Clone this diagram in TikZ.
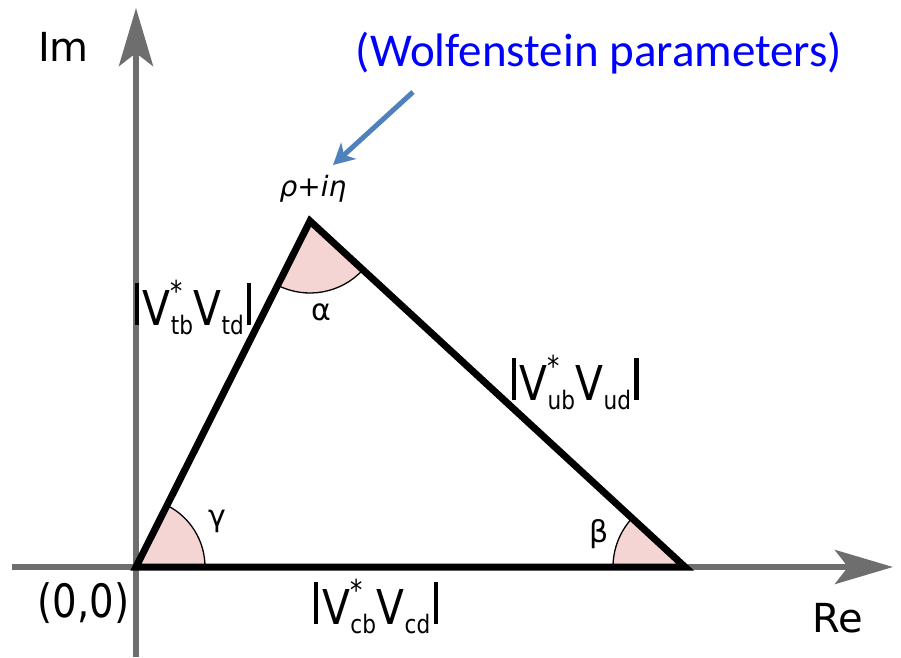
\documentclass[tikz,border=0pt]{standalone}
\usepackage{fontspec}
\setmainfont{DejaVu Sans}
\newfontfamily\calib{Carlito}
\usepackage{graphicx}
\usetikzlibrary{arrows.meta}
\definecolor{axisgray}{HTML}{6E6E6E}
\definecolor{wedge}{HTML}{F4D5D4}
\definecolor{arrowblue}{HTML}{4F81BD}
\definecolor{wblue}{HTML}{0000FF}
\newcommand\ckmlabel[2]{\scalebox{0.85}[1]{\rule{0.1em}{0.88em}\kern0.1em V\rlap{\raisebox{0.5em}{\scalebox{0.6}{*}}}\raisebox{-0.2em}{\scalebox{0.53}{#1}}\kern0.02em V\raisebox{-0.2em}{\scalebox{0.53}{#2}}\kern0.08em\rule{0.1em}{0.88em}}}
\begin{document}
\begin{tikzpicture}[x=1pt,y=1pt,
  axis/.style={draw=axisgray,line width=6pt,-{Stealth[length=58pt,width=34pt,inset=13pt]}},
  side/.style={draw=black,line width=7pt,line join=miter},
  wedgefill/.style={fill=wedge},
  arcline/.style={draw=black,line width=1.3pt},
  lbl/.style={font=\fontsize{40}{40}\selectfont,inner sep=0pt,anchor=base},
  ckm/.style={font=\fontsize{48}{48}\selectfont,inner sep=0pt,anchor=base},
  greek/.style={font=\fontsize{30}{30}\selectfont,inner sep=0pt,anchor=base},
  pointer/.style={draw=arrowblue,line width=5pt,-{Stealth[length=21pt,width=22pt,inset=6pt]}}
]
\useasboundingbox (0,0) rectangle (901,657);
% axes
\coordinate (vb) at (136,0);
\coordinate (vt) at (136,649);
\coordinate (hl) at (12,90);
\coordinate (hr) at (893,90);
\draw[axis] (vb) -- (vt);
\draw[axis] (hl) -- (hr);
% triangle vertices
\coordinate (O) at (136,90);
\coordinate (A) at (310,436);
\coordinate (B) at (685,90);
% angle wedges
\fill[wedgefill] (O) -- ([shift={(0:69)}]O) arc[start angle=0,end angle=63.3,radius=69] -- cycle;
\draw[arcline] ([shift={(0:69)}]O) arc[start angle=0,end angle=63.3,radius=69];
\fill[wedgefill] (A) -- ([shift={(243.3:72)}]A) arc[start angle=243.3,end angle=317.3,radius=72] -- cycle;
\draw[arcline] ([shift={(243.3:72)}]A) arc[start angle=243.3,end angle=317.3,radius=72];
\fill[wedgefill] (B) -- ([shift={(137.3:72)}]B) arc[start angle=137.3,end angle=180,radius=72] -- cycle;
\draw[arcline] ([shift={(137.3:72)}]B) arc[start angle=137.3,end angle=180,radius=72];
% triangle
\draw[side] (O) -- (A) -- (B) -- cycle;
% labels
\node[lbl] (im) at (63.5,595) {Im};
\node[lbl] (re) at (838,25) {Re};
\node[lbl,font=\fontsize{46}{46}\selectfont] (orig) at (83.5,40) {\scalebox{0.84}[1]{(0,0)}};
\node[ckm] (tb) at (193,332) {\ckmlabel{tb}{td}};
\node[ckm] (ub) at (575,257) {\ckmlabel{ub}{ud}};
\node[ckm] (cb) at (376,33) {\ckmlabel{cb}{cd}};
\node[greek] (alpha) at (321,337) {α};
\node[greek] (gamma) at (217,131) {γ};
\node[greek] (beta) at (599,115) {β};
\node[font=\fontsize{28}{28}\selectfont\itshape,inner sep=0pt,anchor=base] (rho) at (313,460) {ρ+iη};
\node[font=\fontsize{47}{47}\selectfont\calib,text=wblue,inner sep=0pt,anchor=base] (wolf) at (599,590) {(Wolfenstein parameters)};
% pointer arrow
\coordinate (ws) at (413,565);
\coordinate (wt) at (333,492);
\draw[pointer] (ws) -- (wt);
\end{tikzpicture}
\end{document}
